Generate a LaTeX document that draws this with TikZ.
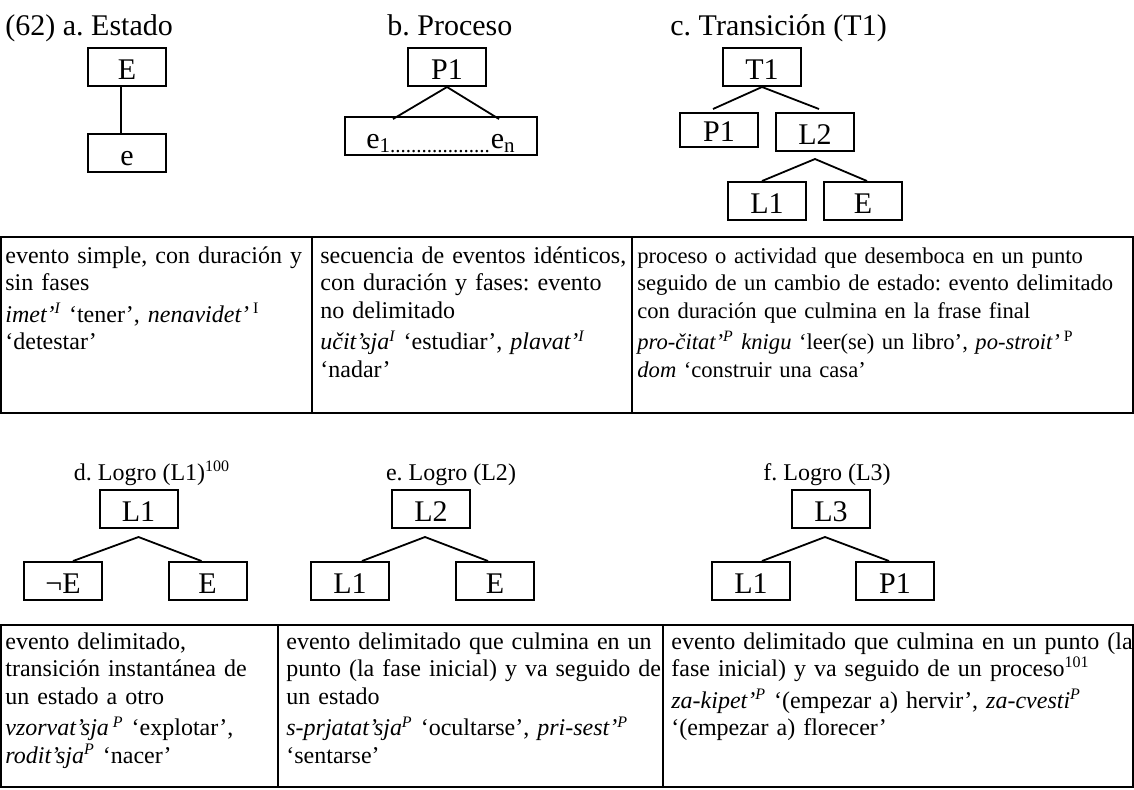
\documentclass[tikz,border=0pt]{standalone}
\usepackage{fontspec}
\setmainfont{Liberation Serif}
\frenchspacing
\begin{document}
\begin{tikzpicture}[x=0.5pt,y=-0.5pt,
  bx/.style={draw, line width=1pt, minimum width=39pt, minimum height=19pt, inner sep=0pt,
             text height=15pt, text depth=3pt, font=\fontsize{15}{15}\selectfont},
  ln/.style={line width=0.9pt},
  tt/.style={font=\fontsize{15}{18}\selectfont, inner sep=0pt, anchor=base west},
  st/.style={font=\fontsize{12}{14}\selectfont, inner sep=0pt, anchor=base},
  cell/.style={font=\fontsize{12}{13.8}\selectfont\frenchspacing, inner sep=0pt, anchor=base west, align=left, text width=#1},
  tb/.style={line width=1pt}]
\useasboundingbox (0,0) rectangle (1134,789);

% ---------- a. Estado
\node[tt] (ta) at (5,35) {(62) a. Estado};
\node[bx] (aE) at (127,67) {E};
\node[bx] (ae) at (127,153) {e};
\draw[ln] ([xshift=-3pt]aE.south) -- ([xshift=-3pt]ae.north);

% ---------- b. Proceso
\node[tt] (tb) at (387,35) {b. Proceso};
\node[bx] (bP) at (447,67) {P1};
\node[bx, minimum width=96pt] (be) at (441,136) {e\textsubscript{1...................}e\textsubscript{n}};
\draw[ln] ([yshift=-1.5pt,xshift=-24pt]be.north) -- (bP.south) -- ([yshift=-1.5pt,xshift=29pt]be.north);

% ---------- c. Transicion
\node[tt] (tc) at (670,35) {c. Transición (T1)};
\node[bx] (cT) at (762,67) {T1};
\node[bx, minimum height=17pt, text height=14pt] (cP) at (719,130) {P1};
\node[bx] (cL2) at (815,132) {L2};
\node[bx] (cL1) at (767,201) {L1};
\node[bx] (cE) at (863,201) {E};
\draw[ln] ([xshift=-3pt,yshift=1.5pt]cP.north) -- (cT.south) -- ([xshift=2pt,yshift=1.5pt]cL2.north);
\draw[ln] ([xshift=-2.5pt]cL1.north) -- ([yshift=-3.5pt]cL2.south) -- ([xshift=2pt]cE.north);

% ---------- table 1
\draw[tb] (1,237) rectangle (1133,413);
\draw[tb] (312,237) -- (312,413);
\draw[tb] (632,237) -- (632,413);
\node[cell=160pt] (c11) at (5,263) {evento simple, con duración y\\ sin fases\\[2pt]
\textit{imet’\textsuperscript{I}} ‘tener’, \textit{nenavidet’\,}\textsuperscript{I}\\ ‘detestar’};
\node[cell=160pt] (c12) at (320,263) {secuencia de eventos idénticos,\\ con duración y fases: evento\\ no delimitado\\[2pt]
\textit{učit’sja\textsuperscript{I}} ‘estudiar’, \textit{plavat’\textsuperscript{I}}\\ ‘nadar’};
\node[cell=260pt, font=\fontsize{11.3}{13.8}\selectfont] (c13) at (637,263) {proceso o actividad que desemboca en un punto\\ seguido de un cambio de estado: evento delimitado\\ con duración que culmina en la frase final\\[2pt]
\textit{pro-čitat’\textsuperscript{P} knigu} ‘leer(se) un libro’, \textit{po-stroit’\,}\textsuperscript{P}\\ \textit{dom} ‘construir una casa’};

% ---------- d. Logro L1
\node[st] (td) at (152,480) {d. Logro (L1)\textsuperscript{100}};
\node[bx] (dL1) at (138.5,509) {L1};
\node[bx] (dnE) at (63,581) {¬E};
\node[bx] (dE) at (207.5,581) {E};
\draw[ln] ([xshift=5pt]dnE.north) -- ([yshift=-4pt]dL1.south) -- ([xshift=-3pt]dE.north);

% ---------- e. Logro L2
\node[st] (te) at (451,480) {e. Logro (L2)};
\node[bx] (eL2) at (431,509) {L2};
\node[bx] (eL1) at (350,581) {L1};
\node[bx] (eE) at (495,581) {E};
\draw[ln] ([xshift=6pt]eL1.north) -- ([xshift=-3pt,yshift=-4pt]eL2.south) -- ([xshift=-3.5pt]eE.north);

% ---------- f. Logro L3
\node[st] (tf) at (827,480) {f. Logro (L3)};
\node[bx] (fL3) at (831,509) {L3};
\node[bx] (fL1) at (751,581) {L1};
\node[bx] (fP1) at (895,581) {P1};
\draw[ln] ([xshift=5.5pt]fL1.north) -- ([xshift=-3pt,yshift=-4pt]fL3.south) -- ([xshift=-3pt]fP1.north);

% ---------- table 2
\draw[tb] (1,625) rectangle (1133,787);
\draw[tb] (278,625) -- (278,787);
\draw[tb] (663,625) -- (663,787);
\node[cell=160pt] (c21) at (5,649) {evento delimitado,\\ transición instantánea de\\ un estado a otro\\[2pt]
\textit{vzorvat’sja\,\textsuperscript{P}} ‘explotar’,\\ \textit{rodit’sja\textsuperscript{P}} ‘nacer’};
\node[cell=200pt] (c22) at (286,649) {evento delimitado que culmina en un\\ punto (la fase inicial) y va seguido de\\ un estado\\[2pt]
\textit{s-prjatat’sja\textsuperscript{P}} ‘ocultarse’, \textit{pri-sest’\textsuperscript{P}}\\ ‘sentarse’};
\node[cell=240pt] (c23) at (671,649) {evento delimitado que culmina en un punto (la\\ fase inicial) y va seguido de un proceso\textsuperscript{101}\\[2pt]
\textit{za-kipet’\textsuperscript{P}} ‘(empezar a) hervir’, \textit{za-cvesti\textsuperscript{P}}\\ ‘(empezar a) florecer’};
\end{tikzpicture}
\end{document}
